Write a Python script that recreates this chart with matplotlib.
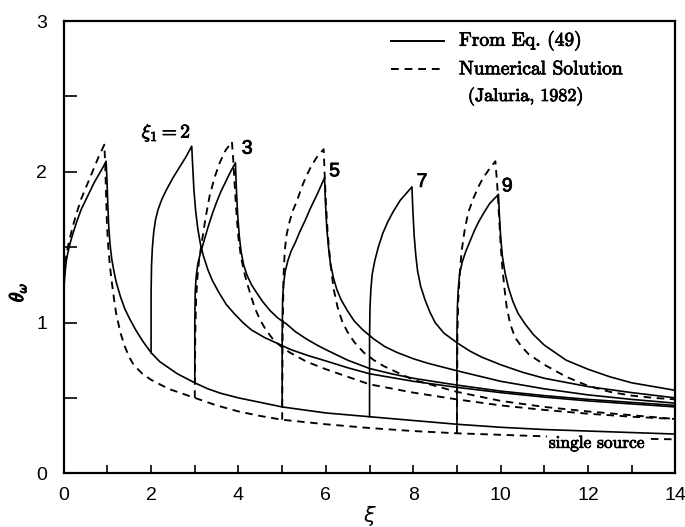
import matplotlib
matplotlib.use('Agg')
import matplotlib.pyplot as plt
import matplotlib.patheffects as pe

# single source, solid (Eq. 49) and dashed (numerical)
s0_x = [0, 0.01, 0.03, 0.06, 0.1, 0.15, 0.2, 0.3, 0.4, 0.5, 0.6, 0.7, 0.8, 0.9, 0.97,
        0.99, 1.01, 1.03, 1.06, 1.1, 1.15, 1.2, 1.3, 1.4, 1.5, 1.65, 1.8, 2.0, 2.2, 2.4, 2.6, 2.8, 3.0,
        3.3, 3.6, 4.0, 4.5, 5.0, 5.5, 6.0, 7.0, 8.0, 9.0, 10.0, 11.0, 12.0, 13.0, 14.0]
s0_y = [1.15, 1.25, 1.33, 1.41, 1.47, 1.53, 1.58, 1.67, 1.75, 1.81, 1.87, 1.93, 1.98, 2.03, 2.07,
        1.95, 1.78, 1.64, 1.52, 1.42, 1.34, 1.27, 1.17, 1.09, 1.03, 0.95, 0.88, 0.8, 0.74, 0.7, 0.66, 0.63, 0.6,
        0.56, 0.53, 0.5, 0.47, 0.44, 0.42, 0.4, 0.375, 0.35, 0.325, 0.305, 0.29, 0.28, 0.27, 0.26]
d0_x = [0, 0.02, 0.05, 0.1, 0.15, 0.22, 0.3, 0.4, 0.5, 0.6, 0.7, 0.8, 0.93,
        0.95, 0.97, 0.99, 1.02, 1.06, 1.1, 1.15, 1.2, 1.3, 1.4, 1.5, 1.6, 1.8, 2.0, 2.2, 2.4, 2.7, 3.0,
        3.5, 4.0, 4.5, 5.0, 6.0, 7.0, 8.0, 9.0, 10.0, 11.0, 12.0, 13.0, 14.0]
d0_y = [1.22, 1.35, 1.43, 1.51, 1.57, 1.65, 1.73, 1.82, 1.89, 1.96, 2.03, 2.1, 2.18,
        2.05, 1.85, 1.65, 1.5, 1.37, 1.27, 1.16, 1.06, 0.93, 0.84, 0.77, 0.72, 0.66, 0.62, 0.59, 0.56, 0.53, 0.5,
        0.45, 0.41, 0.38, 0.355, 0.325, 0.3, 0.28, 0.265, 0.255, 0.245, 0.238, 0.23, 0.225]

# second source at xi1 = 2, 3, 5, 7, 9 (solid)
s2_x = [2.0, 2.0, 2.01, 2.03, 2.06, 2.1, 2.16, 2.25, 2.35, 2.5, 2.65, 2.8, 2.93,
        2.95, 2.98, 3.02, 3.07, 3.13, 3.2, 3.3, 3.4, 3.55, 3.72, 3.9, 4.1, 4.3, 4.6, 4.9, 5.2, 5.6,
        6.0, 6.5, 7.0, 7.5, 8.0, 9.0, 10.0, 11.0, 12.0, 13.0, 14.0]
s2_y = [0.8, 1.2, 1.38, 1.5, 1.6, 1.68, 1.75, 1.82, 1.88, 1.96, 2.03, 2.1, 2.17,
        2.05, 1.88, 1.74, 1.62, 1.52, 1.44, 1.35, 1.28, 1.2, 1.12, 1.06, 1.0, 0.95, 0.9, 0.86, 0.82, 0.78,
        0.745, 0.7, 0.66, 0.635, 0.61, 0.57, 0.535, 0.505, 0.48, 0.46, 0.44]
s3_x = [3.0, 3.0, 3.01, 3.03, 3.07, 3.12, 3.2, 3.3, 3.4, 3.5, 3.6, 3.7, 3.8, 3.93,
        3.95, 3.98, 4.02, 4.06, 4.12, 4.2, 4.3, 4.41, 4.55, 4.72, 4.9, 5.1, 5.3, 5.56, 5.8,
        6.0, 6.5, 7.0, 7.5, 8.0, 9.0, 10.0, 11.0, 12.0, 13.0, 14.0]
s3_y = [0.6, 1.0, 1.2, 1.3, 1.39, 1.45, 1.53, 1.63, 1.72, 1.8, 1.87, 1.93, 1.99, 2.06,
        1.9, 1.72, 1.57, 1.47, 1.38, 1.31, 1.25, 1.2, 1.14, 1.08, 1.03, 0.99, 0.94, 0.89, 0.85,
        0.82, 0.75, 0.695, 0.66, 0.63, 0.585, 0.545, 0.515, 0.49, 0.47, 0.45]
s5_x = [5.0, 5.0, 5.01, 5.03, 5.07, 5.13, 5.2, 5.3, 5.4, 5.53, 5.65, 5.8, 5.97,
        5.99, 6.02, 6.06, 6.1, 6.17, 6.25, 6.35, 6.49, 6.65, 6.85, 7.1, 7.35, 7.64, 8.0, 8.33,
        9.0, 10.0, 11.0, 12.0, 13.0, 14.0]
s5_y = [0.44, 0.9, 1.15, 1.25, 1.34, 1.41, 1.47, 1.53, 1.6, 1.68, 1.76, 1.85, 1.96,
        1.8, 1.63, 1.5, 1.4, 1.3, 1.22, 1.15, 1.08, 1.01, 0.95, 0.89, 0.84, 0.8, 0.76, 0.73,
        0.68, 0.61, 0.56, 0.52, 0.49, 0.465]
s7_x = [7.0, 7.0, 7.01, 7.03, 7.06, 7.12, 7.2, 7.3, 7.42, 7.55, 7.7, 7.85, 7.97,
        7.99, 8.02, 8.06, 8.1, 8.17, 8.27, 8.38, 8.5, 8.7, 9.03, 9.3, 9.57, 10.0, 10.5, 11.0,
        12.0, 13.0, 14.0]
s7_y = [0.375, 0.9, 1.1, 1.22, 1.32, 1.41, 1.5, 1.59, 1.67, 1.74, 1.81, 1.86, 1.9,
        1.75, 1.58, 1.44, 1.34, 1.24, 1.15, 1.07, 1.0, 0.93, 0.86, 0.81, 0.77, 0.72, 0.67, 0.63,
        0.575, 0.535, 0.5]
s9_x = [9.0, 9.0, 9.01, 9.03, 9.06, 9.12, 9.2, 9.3, 9.4, 9.5, 9.62, 9.75, 9.95,
        9.97, 10.0, 10.04, 10.1, 10.18, 10.28, 10.4, 10.56, 10.75, 11.0, 11.25, 11.5, 12.0,
        12.5, 13.0, 13.5, 14.0]
s9_y = [0.32, 0.9, 1.1, 1.22, 1.32, 1.4, 1.47, 1.54, 1.61, 1.67, 1.73, 1.79, 1.85,
        1.72, 1.57, 1.44, 1.33, 1.23, 1.14, 1.06, 0.99, 0.92, 0.85, 0.8, 0.75, 0.69,
        0.64, 0.6, 0.575, 0.55]

# second source, numerical (dashed)
d3_x = [3.0, 3.01, 3.03, 3.06, 3.1, 3.17, 3.25, 3.34, 3.45, 3.57, 3.7, 3.85,
        3.88, 3.92, 3.96, 4.0, 4.06, 4.15, 4.26, 4.37, 4.49, 4.63, 4.8, 5.0, 5.18, 5.56,
        6.0, 6.5, 7.0, 8.0, 9.0, 10.0, 11.0, 12.0, 13.0, 14.0]
d3_y = [0.5, 0.9, 1.15, 1.3, 1.42, 1.55, 1.7, 1.84, 1.96, 2.06, 2.14, 2.2,
        2.08, 1.88, 1.7, 1.56, 1.43, 1.31, 1.2, 1.1, 1.02, 0.95, 0.885, 0.835, 0.8, 0.74,
        0.69, 0.64, 0.59, 0.535, 0.49, 0.45, 0.42, 0.395, 0.375, 0.36]
d5_x = [5.0, 5.01, 5.03, 5.06, 5.1, 5.16, 5.24, 5.33, 5.45, 5.55, 5.67, 5.8, 5.95,
        5.97, 6.0, 6.04, 6.1, 6.18, 6.27, 6.37, 6.49, 6.65, 6.87, 7.1, 7.33, 7.7, 8.0, 8.5,
        9.0, 10.0, 11.0, 12.0, 13.0, 14.0]
d5_y = [0.355, 0.9, 1.3, 1.48, 1.58, 1.66, 1.74, 1.8, 1.9, 1.97, 2.04, 2.1, 2.15,
        2.0, 1.8, 1.6, 1.4, 1.22, 1.1, 1.01, 0.94, 0.87, 0.8, 0.75, 0.71, 0.66, 0.62, 0.58,
        0.54, 0.48, 0.44, 0.41, 0.385, 0.36]
d9_x = [9.0, 9.01, 9.03, 9.07, 9.11, 9.18, 9.26, 9.37, 9.49, 9.6, 9.72, 9.88,
        9.92, 9.96, 10.0, 10.04, 10.09, 10.14, 10.22, 10.33, 10.48, 10.64, 11.0, 11.5,
        12.0, 12.5, 13.0, 13.5, 14.0]
d9_y = [0.265, 0.9, 1.15, 1.35, 1.48, 1.62, 1.73, 1.82, 1.9, 1.96, 2.01, 2.07,
        1.92, 1.72, 1.52, 1.36, 1.22, 1.1, 0.99, 0.9, 0.84, 0.79, 0.72, 0.64,
        0.58, 0.54, 0.515, 0.5, 0.49]

solid = [(s0_x, s0_y), (s2_x, s2_y), (s3_x, s3_y), (s5_x, s5_y), (s7_x, s7_y), (s9_x, s9_y)]
dashed = [(d0_x, d0_y), (d3_x, d3_y), (d5_x, d5_y), (d9_x, d9_y)]

curve_labels = ['3', '5', '7', '9']
label_pos = [(4.2, 2.15), (6.2, 2.0), (8.2, 1.93), (10.15, 1.9)]

bold = [pe.withStroke(linewidth=0.6, foreground='black')]

fig = plt.figure(figsize=(6.85, 5.27), dpi=100)
ax = fig.add_axes([0.093, 0.102, 0.893, 0.858])

for x, y in solid:
    ax.plot(x, y, color='black', lw=1.2)
for x, y in dashed:
    ax.plot(x, y, color='black', lw=1.35, dashes=(4, 3))

ax.text(2.35, 2.26, r'$\xi_1 = 2$', ha='center', va='center', fontsize=14,
        math_fontfamily='cm', path_effects=bold)
for text, (x, y) in zip(curve_labels, label_pos):
    ax.text(x, y, text, ha='center', va='center', fontsize=14, family='Liberation Sans',
            path_effects=bold)

# legend drawn by hand to match the layout
ax.plot([7.5, 8.7], [2.87, 2.87], color='black', lw=1.4)
ax.plot([7.5, 8.7], [2.68, 2.68], color='black', lw=1.4, dashes=(4, 3))
ax.text(9.05, 2.87, 'From Eq. (49)', va='center', fontsize=14, family='cmr10', path_effects=bold)
ax.text(9.05, 2.68, 'Numerical Solution', va='center', fontsize=14, family='cmr10', path_effects=bold)
ax.text(9.25, 2.5, '(Jaluria, 1982)', va='center', fontsize=13, family='cmr10', path_effects=bold)
ax.text(12.2, 0.2, 'single source', ha='center', va='center', fontsize=12.5, family='cmr10',
        path_effects=bold, bbox=dict(facecolor='white', edgecolor='none', pad=1))

ax.set_xlim(0, 14)
ax.set_ylim(0, 3)
ax.set_xticks(range(0, 15))
ax.set_xticklabels([str(i) if i % 2 == 0 else '' for i in range(0, 15)])
ax.set_yticks([0, 0.5, 1, 1.5, 2, 2.5, 3])
ax.set_yticklabels(['0', '', '1', '', '2', '', '3'])
ax.tick_params(axis='x', direction='in', length=6, width=1.2, labelsize=14, pad=10)
ax.tick_params(axis='y', direction='in', length=9, width=1.2, labelsize=14, pad=12)
for lab in ax.get_xticklabels() + ax.get_yticklabels():
    lab.set_family('Liberation Sans')
for sp in ax.spines.values():
    sp.set_linewidth(1.6)

ax.set_xlabel(r'$\xi$', fontsize=15, labelpad=0)
ax.set_ylabel(r'$\theta_\omega$', fontsize=14, math_fontfamily='cm',
              path_effects=[pe.withStroke(linewidth=1.0, foreground='black')])
ax.yaxis.set_label_coords(-0.058, 0.4)

plt.savefig('out.png', dpi=100)
